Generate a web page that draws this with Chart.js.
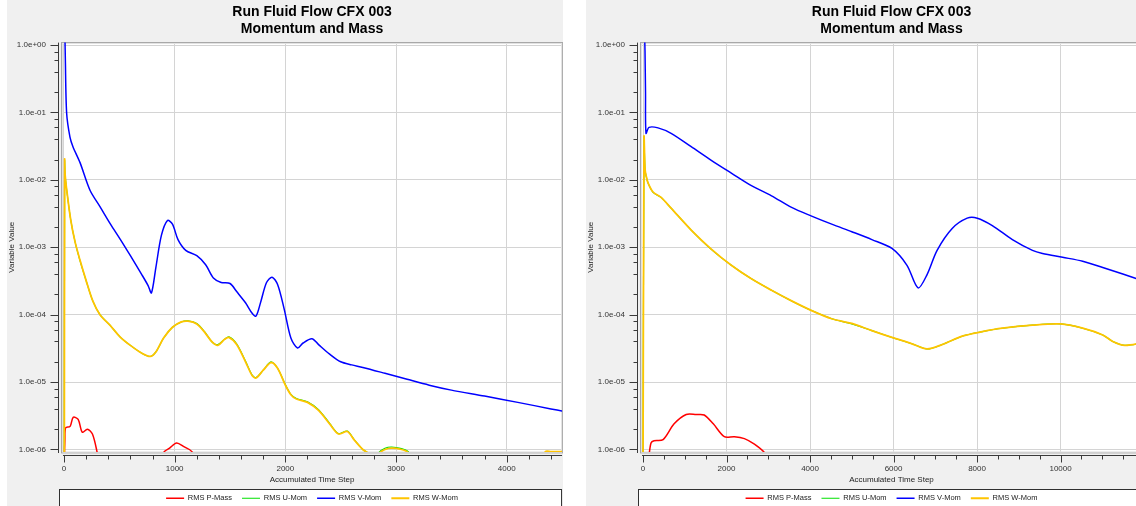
<!DOCTYPE html>
<html>
<head>
<meta charset="utf-8">
<title>Run Fluid Flow CFX 003</title>
<script src="https://cdn.jsdelivr.net/npm/chart.js@4.4.1/dist/chart.umd.min.js"></script>
<style>
  html, body { margin: 0; padding: 0; background: #fff; overflow: hidden; width: 1136px; height: 506px; }
  .panel { position: absolute; top: 0; background: #f0f0f0; }
  .panel canvas { display: block; }
  #left { left: 7px; }
  #right { left: 586px; }
</style>
</head>
<body>
<div class="panel" id="left"><canvas id="leftChart" width="556" height="512"></canvas></div>
<div class="panel" id="right"><canvas id="rightChart" width="556" height="512"></canvas></div>
<script>
// series names (legend order)
const seriesNames = ['RMS P-Mass', 'RMS U-Mom', 'RMS V-Mom', 'RMS W-Mom'];
const titleLines = ['Run Fluid Flow CFX 003', 'Momentum and Mass'];

// y axis decades
const yDecades = [1e-6, 1e-5, 1e-4, 1e-3, 1e-2, 1e-1, 1e0];
const yMinorMult = [2, 4, 6, 8];

// left chart: x tick labels
const leftXLabels = [0, 1000, 2000, 3000, 4000];
// right chart: x tick labels
const rightXLabels = [0, 2000, 4000, 6000, 8000, 10000];

// ---- left chart data ----
const leftPSteps = [0, 8, 15, 55, 83, 128, 165, 211, 257, 300, 340, 860, 900, 954, 1018, 1083, 1156, 1200];
const leftPMass  = [5e-7, 1.4e-6, 2.1e-6, 2.2e-6, 3e-6, 2.8e-6, 1.8e-6, 2e-6, 1.7e-6, 9e-7, 4e-7, 4e-7, 9e-7, 1.05e-6, 1.25e-6, 1.1e-6, 9.3e-7, 6e-7];

const leftVSteps = [9, 12, 24, 54, 81, 145, 235, 325, 420, 510, 600, 700, 760, 790, 830, 880, 935, 980, 1030, 1100, 1200, 1280, 1350, 1420, 1500, 1560, 1640, 1700, 1735, 1780, 1830, 1880, 1930, 1990, 2050, 2110, 2160, 2240, 2300, 2400, 2500, 2600, 2700, 2900, 3100, 3300, 3500, 3800, 4100, 4400, 4510];
const leftVMom   = [1.2, 0.64, 0.097, 0.043, 0.031, 0.018, 7e-3, 4e-3, 2.2e-3, 1.3e-3, 7.5e-4, 4e-4, 2.7e-4, 2.1e-4, 5e-4, 1.5e-3, 2.5e-3, 2.2e-3, 1.3e-3, 9e-4, 7.5e-4, 5.5e-4, 3.5e-4, 3e-4, 2.9e-4, 2.2e-4, 1.5e-4, 1.05e-4, 9.5e-5, 1.6e-4, 3e-4, 3.6e-4, 2.8e-4, 1.2e-4, 4.5e-5, 3.2e-5, 3.8e-5, 4.4e-5, 3.6e-5, 2.6e-5, 2e-5, 1.8e-5, 1.65e-5, 1.35e-5, 1.1e-5, 9e-6, 7.6e-6, 6.2e-6, 5e-6, 4e-6, 3.7e-6];

const leftWSteps = [3, 6, 10, 25, 60, 100, 145, 200, 260, 325, 415, 506, 600, 700, 780, 830, 900, 980, 1060, 1120, 1200, 1270, 1340, 1390, 1450, 1490, 1560, 1640, 1700, 1735, 1800, 1870, 1930, 2000, 2050, 2100, 2200, 2300, 2400, 2480, 2560, 2620, 2700, 2760, 2800, 2840, 2900, 2960, 3050, 3110, 3160, 4300, 4350, 4400, 4510];
const leftWMom   = [5e-7, 2e-2, 1.2e-2, 7e-3, 2.6e-3, 1.2e-3, 6.4e-4, 3.2e-4, 1.6e-4, 1e-4, 7e-5, 4.7e-5, 3.5e-5, 2.7e-5, 2.4e-5, 2.8e-5, 4.5e-5, 6.5e-5, 7.8e-5, 8e-5, 7.3e-5, 5.5e-5, 3.9e-5, 3.5e-5, 4.3e-5, 4.6e-5, 3.6e-5, 2e-5, 1.25e-5, 1.15e-5, 1.5e-5, 1.95e-5, 1.6e-5, 9e-6, 6.5e-6, 5.6e-6, 5e-6, 3.8e-6, 2.4e-6, 1.7e-6, 1.85e-6, 1.4e-6, 1e-6, 8.5e-7, 6e-7, 8.5e-7, 1e-6, 1.05e-6, 1e-6, 9e-7, 6e-7, 6e-7, 9.3e-7, 9.3e-7, 9.3e-7];

const leftUSteps = [3, 6, 10, 25, 60, 100, 145, 200, 260, 325, 415, 506, 600, 700, 780, 830, 900, 980, 1060, 1120, 1200, 1270, 1340, 1390, 1450, 1490, 1560, 1640, 1700, 1735, 1800, 1870, 1930, 2000, 2050, 2100, 2200, 2300, 2400, 2480, 2560, 2620, 2700, 2760, 2800, 2840, 2900, 2960, 3050, 3110, 3160];
const leftUMom   = [5e-7, 1.9e-2, 1.2e-2, 7e-3, 2.6e-3, 1.2e-3, 6.3e-4, 3.2e-4, 1.6e-4, 1e-4, 7e-5, 4.7e-5, 3.5e-5, 2.7e-5, 2.4e-5, 2.8e-5, 4.5e-5, 6.5e-5, 7.8e-5, 8.1e-5, 7.4e-5, 5.6e-5, 3.9e-5, 3.6e-5, 4.3e-5, 4.7e-5, 3.7e-5, 2.05e-5, 1.27e-5, 1.17e-5, 1.5e-5, 2e-5, 1.6e-5, 9.2e-6, 6.6e-6, 5.7e-6, 5.1e-6, 3.9e-6, 2.45e-6, 1.72e-6, 1.88e-6, 1.42e-6, 1e-6, 8.5e-7, 6e-7, 8.8e-7, 1.04e-6, 1.09e-6, 1.03e-6, 9.3e-7, 6e-7];

// ---- right chart data ----
const rightPSteps = [100, 144, 192, 264, 481, 745, 1034, 1274, 1466, 1683, 1947, 2188, 2428, 2668, 2909, 3000];
const rightPMass  = [4e-7, 8e-7, 1.25e-6, 1.35e-6, 1.4e-6, 2.4e-6, 3.3e-6, 3.3e-6, 3.25e-6, 2.4e-6, 1.55e-6, 1.55e-6, 1.45e-6, 1.2e-6, 9e-7, 7e-7];

const rightVSteps = [40, 48, 60, 72, 144, 360, 673, 1154, 1635, 2115, 2596, 3077, 3558, 4038, 4519, 5000, 5481, 5962, 6322, 6587, 6800, 7043, 7404, 7764, 8005, 8365, 8846, 9327, 9567, 10048, 10529, 11010, 11490, 11950];
const rightVMom   = [1.3, 0.8, 0.2, 0.049, 0.06, 0.059, 0.049, 0.031, 0.0195, 0.0126, 8.2e-3, 5.8e-3, 3.9e-3, 2.9e-3, 2.2e-3, 1.7e-3, 1.3e-3, 9.6e-4, 5.4e-4, 2.5e-4, 3.9e-4, 9e-4, 1.9e-3, 2.7e-3, 2.7e-3, 2.1e-3, 1.3e-3, 9e-4, 8.1e-4, 7.1e-4, 6.2e-4, 5e-4, 4e-4, 3.2e-4];

const rightWSteps = [0, 24, 48, 72, 120, 240, 433, 673, 1154, 1635, 2115, 2596, 3077, 3558, 4038, 4519, 5000, 5481, 5962, 6442, 6800, 7163, 7644, 8125, 8606, 9327, 10000, 10529, 11010, 11250, 11538, 11950];
const rightWMom   = [5e-7, 0.043, 0.0145, 0.0117, 9e-3, 6.6e-3, 5.5e-3, 3.8e-3, 1.8e-3, 9.4e-4, 5.4e-4, 3.4e-4, 2.3e-4, 1.6e-4, 1.15e-4, 8.7e-5, 7.4e-5, 5.8e-5, 4.6e-5, 3.7e-5, 3.1e-5, 3.6e-5, 4.8e-5, 5.6e-5, 6.3e-5, 7e-5, 7.3e-5, 6.3e-5, 5e-5, 4e-5, 3.5e-5, 3.8e-5];

const rightUSteps = [0, 24, 48, 72, 120, 240, 433, 673, 1154, 1635, 2115, 2596, 3077, 3558, 4038, 4519, 5000, 5481, 5962, 6442, 6800, 7163, 7644, 8125, 8606, 9327, 10000, 10529, 11010, 11250, 11538, 11950];
const rightUMom   = [5e-7, 0.042, 0.0144, 0.0116, 9e-3, 6.5e-3, 5.5e-3, 3.8e-3, 1.8e-3, 9.3e-4, 5.4e-4, 3.4e-4, 2.3e-4, 1.6e-4, 1.15e-4, 8.7e-5, 7.3e-5, 5.8e-5, 4.6e-5, 3.7e-5, 3.1e-5, 3.6e-5, 4.8e-5, 5.6e-5, 6.3e-5, 7e-5, 7.3e-5, 6.3e-5, 5e-5, 4e-5, 3.5e-5, 3.8e-5];

const colors = ['#ff0000', '#00e000', '#0000ff', '#ffc400'];
const lineWidths = [1.5, 1.1, 1.5, 1.8];
const drawOrder = [3, 2, 1, 0];   // W-Mom on top
const FONT = "'Liberation Sans', Arial, sans-serif";

function isDecade(v) {
    const l = Math.log10(v);
    return Math.abs(l - Math.round(l)) < 1e-9;
}

function expLabel(v) {
    const parts = v.toExponential(1).split('e');
    const sign = parts[1][0];
    const digits = parts[1].slice(1).padStart(2, '0');
    return parts[0] + 'e' + sign + digits;
}

// frame, plot background, axis lines and tick marks, legend box
const cfxPlugin = {
    id: 'cfxFrame',
    beforeDraw(chart) {
        const ctx = chart.ctx;
        const a = chart.chartArea;
        ctx.save();
        ctx.fillStyle = '#ffffff';
        ctx.fillRect(a.left, a.top, a.right - a.left, a.bottom - a.top);
        // legend box
        const lg = chart.legend;
        const top = Math.round(lg.top) + 4.5;
        ctx.fillStyle = '#ffffff';
        ctx.fillRect(a.left - 2, top, a.right - a.left + 2, 40);
        ctx.strokeStyle = '#303030';
        ctx.lineWidth = 1;
        ctx.strokeRect(Math.round(a.left) - 2.5, top, a.right - a.left + 2, 40);
        ctx.restore();
    },
    beforeDatasetsDraw(chart) {
        const ctx = chart.ctx;
        const a = chart.chartArea;
        const xs = chart.scales.x;
        const ys = chart.scales.y;
        ctx.save();
        // plot frame
        ctx.strokeStyle = '#a8a8a8';
        ctx.lineWidth = 1;
        ctx.strokeRect(Math.round(a.left) - 0.5, Math.round(a.top) - 0.5, a.right - a.left + 1, a.bottom - a.top + 1);
        ctx.strokeStyle = '#e2e2e2';
        ctx.strokeRect(Math.round(a.left) + 0.5, Math.round(a.top) + 0.5, a.right - a.left - 1, a.bottom - a.top - 1);
        // axes
        ctx.strokeStyle = '#3a3a3a';
        ctx.beginPath();
        const ax = Math.round(a.left) - 3.5;
        ctx.moveTo(ax, a.top);
        ctx.lineTo(ax, a.bottom + 1);
        ys.ticks.forEach(t => {
            const y = Math.round(ys.getPixelForValue(t.value)) + 0.5;
            ctx.moveTo(ax, y);
            ctx.lineTo(ax - (isDecade(t.value) ? 8 : 4), y);
        });
        const ay = Math.round(a.bottom) + 3.5;
        ctx.moveTo(xs.getPixelForValue(0) - 1, ay);
        ctx.lineTo(a.right, ay);
        xs.ticks.forEach(t => {
            const x = Math.round(xs.getPixelForValue(t.value)) + 0.5;
            ctx.moveTo(x, ay);
            ctx.lineTo(x, ay + (t.major ? 7 : 4));
        });
        ctx.stroke();
        ctx.restore();
    }
};

function makeChart(id, stepsList, valsList, xMin, xMax, xMinorStep, xLabels) {
    const datasets = seriesNames.map((name, i) => ({
        label: name,
        data: stepsList[i].map((s, k) => ({x: s, y: valsList[i][k]})),
        borderColor: colors[i],
        backgroundColor: colors[i],
        borderWidth: lineWidths[i],
        pointRadius: 0,
        tension: 0.3,
        fill: false,
        order: drawOrder[i]
    }));

    return new Chart(document.getElementById(id), {
        type: 'line',
        data: { datasets: datasets },
        options: {
            responsive: false,
            animation: false,
            devicePixelRatio: 1,
            layout: { padding: 0 },
            scales: {
                x: {
                    type: 'linear',
                    min: xMin,
                    max: xMax,
                    afterFit: s => { s.height = 32.5; },
                    afterBuildTicks: s => {
                        const ticks = [];
                        for (let v = 0; v <= xMax; v += xMinorStep) {
                            ticks.push({ value: v, major: xLabels.includes(v) });
                        }
                        s.ticks = ticks;
                    },
                    border: { display: false },
                    grid: {
                        drawTicks: false,
                        color: c => (c.tick && xLabels.includes(c.tick.value)) ? '#d4d4d4' : 'rgba(0,0,0,0)',
                        lineWidth: 1
                    },
                    ticks: {
                        autoSkip: false,
                        maxRotation: 0,
                        padding: 12,
                        color: '#333',
                        font: { family: FONT, size: 8 },
                        callback: v => xLabels.includes(v) ? String(v) : ''
                    },
                    title: {
                        display: true,
                        text: 'Accumulated Time Step',
                        color: '#222',
                        font: { family: FONT, size: 8 },
                        padding: { top: 0, bottom: 0 }
                    }
                },
                y: {
                    type: 'logarithmic',
                    min: 9.18e-7,
                    max: 1.086,
                    afterFit: s => { s.width = 55; },
                    afterBuildTicks: s => {
                        const ticks = [];
                        yDecades.forEach(d => {
                            ticks.push({ value: d, major: true });
                            if (d < 1) {
                                yMinorMult.forEach(m => ticks.push({ value: d * m, major: false }));
                            }
                        });
                        s.ticks = ticks;
                    },
                    border: { display: false },
                    grid: {
                        drawTicks: false,
                        color: c => (c.tick && isDecade(c.tick.value)) ? '#d4d4d4' : 'rgba(0,0,0,0)',
                        lineWidth: 1
                    },
                    ticks: {
                        autoSkip: false,
                        padding: 16,
                        color: '#333',
                        font: { family: FONT, size: 8 },
                        callback: v => isDecade(v) ? expLabel(v) : ''
                    },
                    title: {
                        display: true,
                        text: 'Variable Value',
                        color: '#222',
                        font: { family: FONT, size: 8 },
                        padding: { top: 0, bottom: 0 }
                    }
                }
            },
            plugins: {
                title: {
                    display: true,
                    fullSize: false,
                    text: titleLines,
                    color: '#000',
                    font: { family: FONT, size: 14, weight: 'bold' },
                    padding: { top: 4, bottom: 5 }
                },
                legend: {
                    position: 'bottom',
                    fullSize: false,
                    labels: {
                        usePointStyle: true,
                        pointStyle: 'line',
                        pointStyleWidth: 18,
                        padding: 10,
                        color: '#222',
                        font: { family: FONT, size: 7.5 },
                        sort: (a, b) => a.datasetIndex - b.datasetIndex
                    }
                },
                tooltip: { enabled: false }
            }
        },
        plugins: [cfxPlugin]
    });
}

document.addEventListener('DOMContentLoaded', function() {
    makeChart('leftChart',
        [leftPSteps, leftUSteps, leftVSteps, leftWSteps],
        [leftPMass, leftUMom, leftVMom, leftWMom],
        -18, 4500, 200, leftXLabels);
    makeChart('rightChart',
        [rightPSteps, rightUSteps, rightVSteps, rightWSteps],
        [rightPMass, rightUMom, rightVMom, rightWMom],
        -48, 11950, 500, rightXLabels);
});
</script>
</body>
</html>
